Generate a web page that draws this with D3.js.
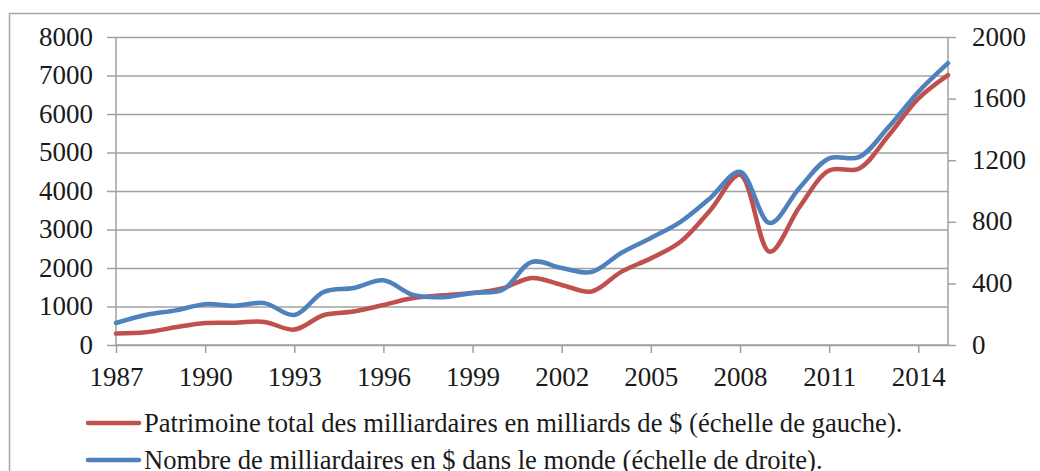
<!DOCTYPE html>
<html>
<head>
<meta charset="utf-8">
<script src="https://cdn.jsdelivr.net/npm/d3@7"></script>
<style>
  .lbl { font-family: "Liberation Serif", Tinos, "Times New Roman", serif; }
</style>
</head>
<body style="margin:0">
<div id="chart"></div>
<script>
const years = d3.range(1987, 2016);
// patrimoine total (milliards $), échelle de gauche
const wealth = [300, 330, 460, 570, 580, 600, 400, 780, 870, 1040, 1220, 1290, 1350, 1470,
  1740, 1560, 1390, 1900, 2250, 2680, 3500, 4420, 2420, 3580, 4530, 4580, 5440, 6400, 7010];
// nombre de milliardaires, échelle de droite
const count = [143, 195, 225, 265, 255, 272, 195, 345, 370, 420, 325, 310, 338, 357,
  540, 500, 474, 597, 695, 800, 955, 1125, 792, 1020, 1212, 1220, 1415, 1643, 1830];
const leftTicks = d3.range(0, 8001, 1000);
const rightTicks = d3.range(0, 2001, 400);
const xTicks = d3.range(1987, 2016, 3);
const legendLabels = [
  "Patrimoine total des milliardaires en milliards de $ (échelle de gauche).",
  "Nombre de milliardaires en $ dans le monde (échelle de droite)."
];
const colors = ["#c0504d", "#4f81bd"];

const width = 1040, height = 471;
const svg = d3.select("#chart").append("svg").attr("width", width).attr("height", height);

// cadre
svg.append("path")
  .attr("d", `M9.5,${height}V13.5H${width}`)
  .attr("fill", "none").attr("stroke", "#a6a6a6").attr("stroke-width", 1.5);

const x = d3.scaleLinear().domain([1987, 2015]).range([116, 948]);
const yL = d3.scaleLinear().domain([0, 8000]).range([345, 37]);
const yR = d3.scaleLinear().domain([0, 2000]).range([345, 37]);

function label(sel, size) {
  sel.attr("class", "lbl")
    .attr("font-size", size).attr("fill", "#1a1a1a");
}

// grille + axe gauche
const gL = svg.append("g").attr("transform", "translate(116,0)")
  .call(d3.axisLeft(yL).tickValues(leftTicks).tickSize(9).tickPadding(14).tickFormat(d3.format("d")));
gL.selectAll(".tick line").clone().attr("x2", 948 - 116);

// axe droit
const gR = svg.append("g").attr("transform", "translate(948,0)")
  .call(d3.axisRight(yR).tickValues(rightTicks).tickSize(8).tickPadding(16).tickFormat(d3.format("d")));

// axe des x
const gX = svg.append("g").attr("transform", "translate(0,345)")
  .call(d3.axisBottom(x).tickValues(xTicks).tickSize(8).tickPadding(14).tickFormat(d3.format("d")));

[gL, gR, gX].forEach(g => {
  g.attr("font-family", null).attr("font-size", null);
  g.selectAll(".tick line").attr("stroke", "#a0a0a0").attr("stroke-width", 1.5);
  g.select(".domain").attr("stroke", "#a0a0a0").attr("stroke-width", 1.5);
  g.selectAll("text").call(label, 27);
});
gL.select(".domain").attr("d", "M0,345V37");
gR.select(".domain").attr("d", "M0,345V37");
gX.select(".domain").attr("d", "M116,0H948");
gL.selectAll("text").attr("dy", "0.3em");
gR.selectAll("text").attr("dy", "0.3em");
gX.selectAll("text").attr("dy", "0.72em");

// courbes
const lineL = d3.line().x((d, i) => x(years[i])).y(d => yL(d)).curve(d3.curveCatmullRom);
const lineR = d3.line().x((d, i) => x(years[i])).y(d => yR(d)).curve(d3.curveCatmullRom);

svg.append("path").datum(wealth)
  .attr("d", lineL).attr("fill", "none")
  .attr("stroke", colors[0]).attr("stroke-width", 4.5).attr("stroke-linecap", "round");
svg.append("path").datum(count)
  .attr("d", lineR).attr("fill", "none")
  .attr("stroke", colors[1]).attr("stroke-width", 4.5).attr("stroke-linecap", "round");

// légende
const legend = svg.append("g");
legendLabels.forEach((text, i) => {
  const yy = 423 + i * 37;
  legend.append("line")
    .attr("x1", 88).attr("x2", 139).attr("y1", yy).attr("y2", yy)
    .attr("stroke", colors[i]).attr("stroke-width", 4.5).attr("stroke-linecap", "round");
  legend.append("text")
    .attr("x", 144).attr("y", yy + 8.5)
    .call(label, 26.6)
    .text(text);
});
</script>
</body>
</html>
